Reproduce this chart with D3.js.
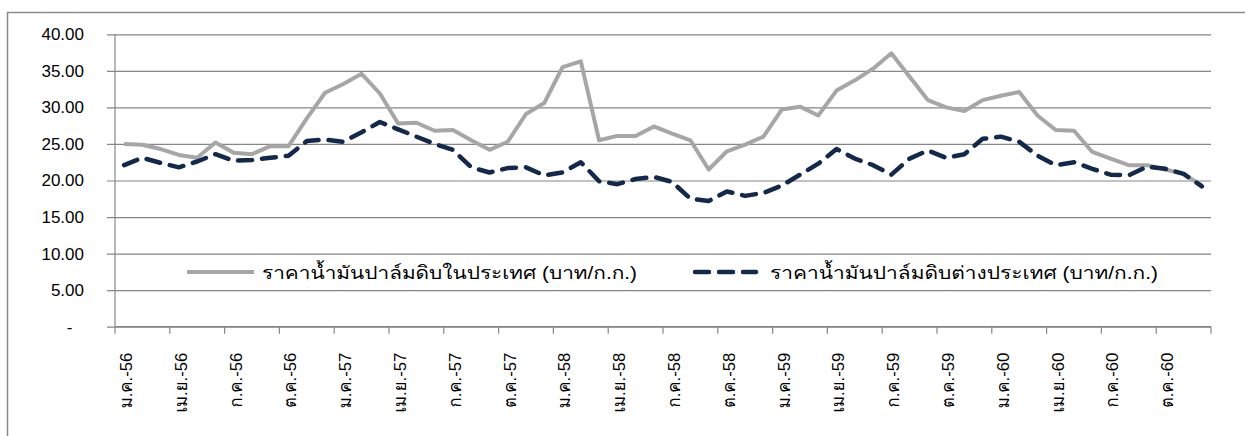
<!DOCTYPE html>
<html>
<head>
<meta charset="utf-8">
<script src="https://cdn.jsdelivr.net/npm/d3@7"></script>
<style>
html,body{margin:0;padding:0;background:#fff;}
svg{display:block;}
text{font-family:"Liberation Sans","Loma","Noto Sans Thai",Arial,sans-serif;fill:#000;}
</style>
</head>
<body>
<svg id="chart" width="1245" height="436"></svg>
<script>
// ---- data ----
const monthNames = ["ม.ค.","ก.พ.","มี.ค.","เม.ย.","พ.ค.","มิ.ย.","ก.ค.","ส.ค.","ก.ย.","ต.ค.","พ.ย.","ธ.ค."];
const years = ["56","57","58","59","60"];
const categories = years.flatMap(y => monthNames.map(m => m + "-" + y));
const domestic = [
  25.0,24.9,24.3,23.5,23.1,25.2,23.8,23.6,24.7,24.7,28.5,32.0,
  33.2,34.6,31.9,27.8,27.9,26.8,26.9,25.5,24.2,25.3,29.1,30.6,
  35.5,36.3,25.5,26.1,26.1,27.4,26.4,25.5,21.5,24.0,24.9,26.0,
  29.7,30.1,28.9,32.3,33.7,35.3,37.4,34.2,31.0,30.0,29.5,31.0,
  31.6,32.1,28.9,26.9,26.8,23.9,23.0,22.1,22.1,21.5,20.9,19.3
];
const foreign = [
  22.1,23.1,22.4,21.8,22.6,23.6,22.7,22.8,23.1,23.4,25.4,25.6,
  25.3,26.6,28.0,27.0,26.0,25.0,24.2,21.8,21.1,21.7,21.8,20.7,
  21.1,22.5,19.9,19.5,20.2,20.5,19.8,17.5,17.2,18.5,17.9,18.3,
  19.3,20.8,22.3,24.3,23.0,22.1,20.8,23.0,24.1,23.1,23.6,25.7,
  26.0,25.3,23.4,22.1,22.5,21.6,20.8,20.7,21.9,21.6,20.9,19.2
];
const yTicks = [0,5,10,15,20,25,30,35,40];
const seriesNames = ["ราคาน้ำมันปาล์มดิบในประเทศ (บาท/ก.ก.)","ราคาน้ำมันปาล์มดิบต่างประเทศ (บาท/ก.ก.)"];

// ---- layout ----
const svg = d3.select("#chart");
const pLeft = 115, pRight = 1211, pTop = 34.3, pBottom = 326.7;
const gridColor = "#868686";
const navy = "#14294a", gray = "#a6a6a6";

// outer frame
svg.append("rect").attr("x",7.5).attr("y",12.5).attr("width",1400).attr("height",600)
  .attr("fill","none").attr("stroke","#8c8c8c").attr("stroke-width",1.5);

const x = d3.scaleBand().domain(categories).range([pLeft,pRight]).padding(0);
const y = d3.scaleLinear().domain([0,40]).range([pBottom,pTop]);
const cx = d => x(d) + x.bandwidth()/2;

// gridlines + y ticks
const yAxis = d3.axisLeft(y).tickValues(yTicks).tickSize(8).tickSizeOuter(0)
  .tickFormat(d => d === 0 ? "-" : d3.format(".2f")(d));
const gy = svg.append("g").attr("transform",`translate(${pLeft},0)`).call(yAxis);
gy.select(".domain").remove();
gy.selectAll(".tick line").attr("stroke",gridColor).attr("stroke-width",1.2).attr("x1",-8).attr("x2",pRight-pLeft);
gy.selectAll(".tick text").attr("x",-31).attr("font-size",17).attr("fill","#000")
  .style("font-family",'"Liberation Sans",Arial,sans-serif');
gy.selectAll(".tick").filter(d => d === 0).select("text").attr("x",-42.5);

// y axis line
svg.append("line").attr("x1",pLeft).attr("x2",pLeft).attr("y1",pTop).attr("y2",pBottom)
  .attr("stroke",gridColor).attr("stroke-width",1.2);

// x axis ticks (boundaries every 3 months)
const tickCats = categories.filter((d,i) => i % 3 === 0);
const boundaries = tickCats.map(d => x(d)).concat([pRight]);
svg.append("g").selectAll("line").data(boundaries).join("line")
  .attr("x1",d=>d).attr("x2",d=>d).attr("y1",pBottom).attr("y2",pBottom+7)
  .attr("stroke",gridColor).attr("stroke-width",1.2);
svg.append("line").attr("x1",pLeft).attr("x2",pRight).attr("y1",pBottom).attr("y2",pBottom)
  .attr("stroke",gridColor).attr("stroke-width",1.2);

// x labels (rotated), stretched to the wide Thai face of the original
const xl = svg.append("g").selectAll("text").data(tickCats).join("text")
  .attr("transform",d => `translate(${cx(d)+2},352.7) rotate(-90)`)
  .attr("text-anchor","end").attr("dy","0.35em").attr("font-size",17)
  .text(d => d);
let refLen = null;
xl.each(function(d,i){ const w = this.getComputedTextLength(); if (i===0) refLen = w; });
const stretch = 55.6 / refLen;
xl.each(function(){ const w = this.getComputedTextLength();
  d3.select(this).attr("textLength", w*stretch).attr("lengthAdjust","spacingAndGlyphs"); });

// lines
const line = d3.line().x((d,i) => cx(categories[i])).y(d => y(d));
svg.append("path").datum(domestic).attr("d",line).attr("fill","none")
  .attr("stroke",gray).attr("stroke-width",4).attr("stroke-linejoin","round");
svg.append("path").datum(foreign).attr("d",line).attr("fill","none")
  .attr("stroke",navy).attr("stroke-width",4.5).attr("stroke-linejoin","round")
  .attr("stroke-linecap","round").attr("stroke-dasharray","14,10");

// legend
const lg = svg.append("g");
lg.append("rect").attr("x",180).attr("y",258).attr("width",990).attr("height",28).attr("fill","#fff");
lg.append("line").attr("x1",187).attr("x2",254).attr("y1",272).attr("y2",272)
  .attr("stroke",gray).attr("stroke-width",4);
lg.append("text").attr("x",262).attr("y",278.5).attr("font-size",18)
  .attr("textLength",375).attr("lengthAdjust","spacingAndGlyphs").text(seriesNames[0]);
lg.append("line").attr("x1",695).attr("x2",756).attr("y1",272).attr("y2",272)
  .attr("stroke",navy).attr("stroke-width",4.5).attr("stroke-linecap","round").attr("stroke-dasharray","14,10");
lg.append("text").attr("x",770).attr("y",278.5).attr("font-size",18)
  .attr("textLength",388).attr("lengthAdjust","spacingAndGlyphs").text(seriesNames[1]);
</script>
</body>
</html>
